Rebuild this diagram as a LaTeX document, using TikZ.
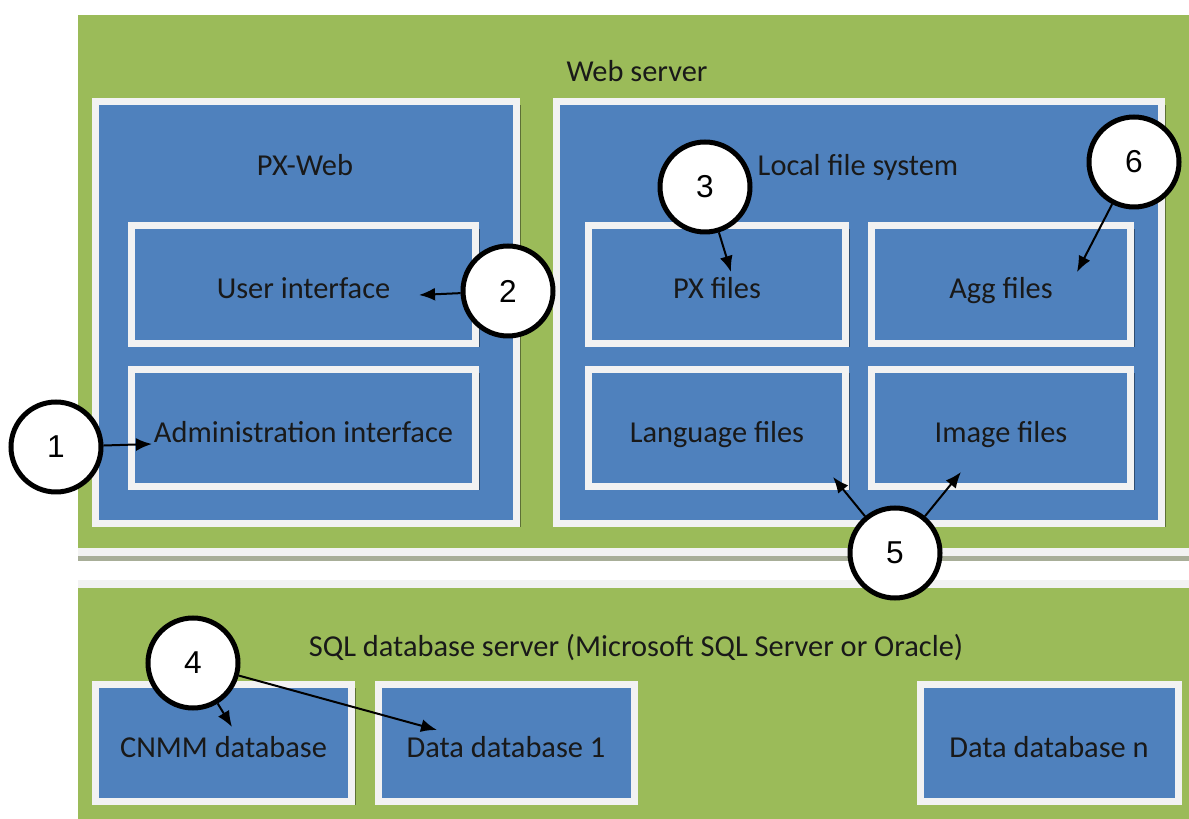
\documentclass[tikz,border=0pt]{standalone}
\usepackage{fontspec}
\setmainfont{Carlito}
\newfontfamily\numfont{Liberation Sans}
\usetikzlibrary{arrows.meta,shadows}

\definecolor{srvgreen}{HTML}{9BBB59}
\definecolor{boxblue}{HTML}{4F81BD}
\definecolor{boxrim}{HTML}{F2F2F2}
\definecolor{gapline}{HTML}{A8AE98}

\tikzset{
  tile/.style={draw=boxrim, line width=0.14cm, fill=boxblue, text=black!90,
    font=\fontsize{17.3}{20}\selectfont, inner sep=0pt, text height=1.6em, text depth=0pt,
    drop shadow={shadow xshift=0.08cm, shadow yshift=-0.08cm, opacity=0.4, fill=black}},
  title/.style={text=black!90, font=\fontsize{17.3}{20}\selectfont, text depth=0pt},
  num/.style={circle, draw, line width=0.1cm, fill=white, minimum size=1.8cm,
    inner sep=0pt, font=\numfont\fontsize{18}{20}\selectfont},
  pointer/.style={line width=0.04cm, -{Latex[length=0.32cm, width=0.26cm]}}
}

\begin{document}
\begin{tikzpicture}
  \useasboundingbox (0,0) rectangle (23.78,-16.38);
  \fill[white] (0,0) rectangle (23.78,-16.38);

  % servers
  \fill[srvgreen] (1.56,-0.30) rectangle (23.78,-10.96);
  \fill[boxrim] (1.56,-10.96) rectangle (23.78,-11.12);
  \fill[gapline] (1.56,-11.12) rectangle (23.78,-11.22);
  \fill[boxrim] (1.56,-11.60) rectangle (23.78,-11.76);
  \fill[srvgreen] (1.56,-11.76) rectangle (23.78,-16.38);

  \node[title] (web) at (12.74,-1.42) {Web server};
  \node[title] (sql) at (12.72,-12.90) {SQL database server (Microsoft SQL Server or Oracle)};

  % PX-Web and file system
  \node[tile, minimum width=8.42cm, minimum height=8.44cm] (pxweb) at (6.12,-6.25) {};
  \node[tile, minimum width=12.10cm, minimum height=8.44cm] (lfs) at (17.18,-6.25) {};
  \node[title] (pxwebT) at (6.10,-3.30) {PX-Web};
  \node[title] (lfsT) at (17.16,-3.30) {Local file system};

  \node[tile, minimum width=6.88cm, minimum height=2.36cm] (ui) at (6.07,-5.69) {User interface};
  \node[tile, minimum width=6.88cm, minimum height=2.34cm] (admin) at (6.07,-8.56) {Administration interface};
  \node[tile, minimum width=5.14cm, minimum height=2.36cm] (px) at (14.34,-5.69) {PX files};
  \node[tile, minimum width=5.18cm, minimum height=2.36cm] (agg) at (20.02,-5.69) {Agg files};
  \node[tile, minimum width=5.14cm, minimum height=2.34cm] (lang) at (14.34,-8.56) {Language files};
  \node[tile, minimum width=5.18cm, minimum height=2.34cm] (img) at (20.02,-8.56) {Image files};

  % databases
  \node[tile, minimum width=5.12cm, minimum height=2.34cm] (cnmm) at (4.47,-14.86) {CNMM database};
  \node[tile, minimum width=5.12cm, minimum height=2.34cm] (db1) at (10.12,-14.86) {Data database 1};
  \node[tile, minimum width=5.16cm, minimum height=2.34cm] (dbn) at (20.98,-14.86) {Data database n};

  % numbers
  \node[num] (c1) at (1.12,-8.94) {1};
  \node[num] (c2) at (10.16,-5.82) {2};
  \node[num] (c3) at (14.10,-3.74) {3};
  \node[num] (c4) at (3.86,-13.26) {4};
  \node[num] (c5) at (17.90,-11.06) {5};
  \node[num] (c6) at (22.68,-3.24) {6};

  \coordinate (a1) at (3.04,-8.88);
  \coordinate (a2) at (8.38,-5.90);
  \coordinate (a3) at (14.62,-5.44);
  \coordinate (a4) at (4.64,-14.54);
  \coordinate (b4) at (8.74,-14.60);
  \coordinate (a5) at (16.66,-9.54);
  \coordinate (b5) at (19.22,-9.44);
  \coordinate (a6) at (21.54,-5.44);

  \draw[pointer] (c1) -- (a1);
  \draw[pointer] (c2) -- (a2);
  \draw[pointer] (c3) -- (a3);
  \draw[pointer] (c4) -- (a4);
  \draw[pointer] (c4) -- (b4);
  \draw[pointer] (c5) -- (a5);
  \draw[pointer] (c5) -- (b5);
  \draw[pointer] (c6) -- (a6);
\end{tikzpicture}
\end{document}
